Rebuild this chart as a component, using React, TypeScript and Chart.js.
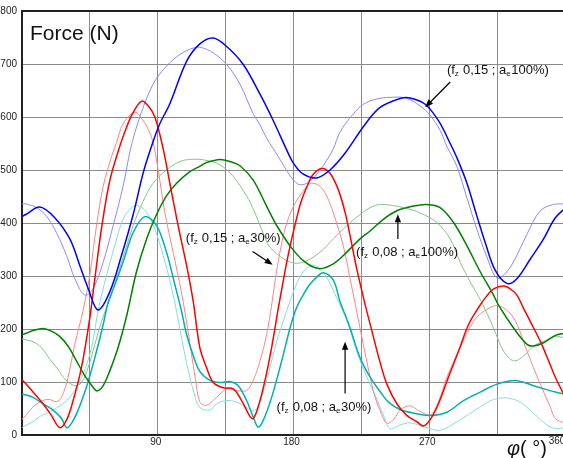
import React, { useEffect, useRef } from "react";
import { Chart, registerables } from "chart.js";

Chart.register(...registerables);

type Pt = [number, number];

// angle φ (°) , force (N)
const blueDark: Pt[] = [[0,412],[2.5,416],[11.8,430],[21.7,410],[31.7,370],[38.3,320],[43.8,277],[50.4,236],[58.2,270],[66,339],[73.7,416],[80.3,494],[85.3,540],[91,585],[98,625],[109.1,705],[117.9,738],[126.8,749],[135.7,733],[146.7,699],[157.8,643],[166.6,593],[176.6,531],[179.9,513],[186,493],[195.4,485],[204.2,500],[214,531],[226.9,584],[237.4,618],[250.7,635],[257.3,636],[267.3,624],[276.1,593],[283.9,550],[288.8,520],[295,475],[301.6,413],[307.1,363],[313.7,311],[321.5,286],[328.1,295],[337,332],[345.8,370],[353.1,408],[360,428]];
const blueLight: Pt[] = [[0,436],[2.5,436],[9.6,429],[16.2,413],[22.8,382],[29.5,339],[35,295],[41.6,264],[47.1,276],[53.8,326],[60.4,395],[67,469],[72,540],[78.1,600],[86.9,662],[95.8,696],[104.7,718],[113.5,730],[119,731],[126.8,721],[135.7,699],[144.5,662],[153.3,606],[157.8,585],[162.2,560],[166.6,540],[173.2,510],[178.8,485],[184.3,472],[191,479],[197.6,500],[202,518],[206.4,540],[210.9,572],[219.7,606],[226.3,624],[235.2,634],[244,637],[254,636],[264,621],[270.6,603],[277.2,575],[281.6,545],[288.3,507],[295,447],[301.6,388],[308.2,336],[314.9,296],[321.5,308],[328.1,339],[334.8,379],[343.6,423],[352.4,435],[360,436]];
const redDark: Pt[] = [[0,104],[1.8,99],[7.3,81],[13.9,59],[19.5,37],[25,14],[29.5,28],[33.9,65],[39.4,127],[44.9,220],[48.3,295],[52.7,390],[58.2,480],[64.3,540],[68.2,572],[73,605],[79.3,630],[84,620],[88.1,600],[93.6,540],[98,475],[103.5,395],[109.1,320],[113.5,252],[117.9,165],[122.4,127],[126.8,99],[133.4,89],[140,87],[145.6,65],[151.1,35],[153.3,31],[156.6,53],[161.1,103],[165.5,165],[169.9,239],[172.2,275],[175.5,326],[178.8,370],[182,408],[185,440],[188.8,468],[193.1,492],[198.7,503],[204.2,494],[209.7,463],[214.2,420],[217.5,376],[221.9,314],[227.5,246],[232,196],[237.4,137],[241.9,96],[248.5,59],[255.1,37],[261.8,25],[266.1,17],[270.6,29],[276.1,59],[282.7,109],[289.4,158],[296,208],[303,242],[308,262],[313,276],[319.3,281],[324,275],[328.1,264],[332.5,239],[337,214],[343.6,177],[349.1,140],[353.6,109],[360,72]];
const redLight: Pt[] = [[0,30],[1.8,34],[7.3,53],[13.9,65],[18.4,67],[22.8,63],[26.2,71],[30.5,109],[35,171],[40.5,235],[44.9,301],[49.4,395],[53.8,469],[59.3,525],[62.7,552],[67,587],[74.8,609],[80.3,593],[84.8,570],[87.5,545],[90.3,500],[94.7,420],[100.2,345],[105.8,268],[109,215],[112,160],[115,105],[118,62],[122.4,56],[129,71],[135.7,87],[142.3,84],[148.9,84],[153.3,103],[157.8,140],[162.2,190],[165.5,245],[168,295],[171,345],[174,385],[177,412],[181,437],[185.4,456],[189.8,472],[193.1,475],[197.6,469],[202,451],[206.4,419],[213,357],[217.5,295],[221.9,233],[226,175],[230,120],[234,72],[238,42],[241.9,22],[246,28],[251,48],[257.3,55],[263,46],[270.6,38],[276,62],[281.7,109],[290.5,165],[299.3,214],[306,233],[315.9,244],[325.9,221],[334.8,158],[343.6,96],[350.2,53],[353.6,31],[360,22]];
const greenDark: Pt[] = [[0,190],[1.8,191],[7.3,197],[13.9,201],[19.5,196],[25,186],[30.5,168],[36.1,140],[41.6,112],[47.1,90],[49.8,83],[53.8,93],[58.2,121],[63.7,165],[69.3,224],[75.9,308],[82.6,370],[89.2,416],[95.8,451],[102.5,475],[111.3,497],[117.9,507],[122.4,514],[131.2,520],[138,516],[144.5,508],[153.3,481],[161.1,438],[164.4,419],[168.9,395],[177.7,357],[186.5,329],[196.5,314],[206.4,323],[215.3,345],[224.1,370],[230.8,385],[239.6,407],[248.5,423],[259.5,432],[268.4,435],[277.2,429],[286.1,401],[295,357],[303.8,308],[312.6,264],[315.9,245],[325.9,202],[334.8,171],[339.2,168],[345.8,174],[353.6,188],[360,192]];
const greenLight: Pt[] = [[0,181],[1.8,180],[7.3,176],[12.9,165],[18.4,143],[23.9,124],[28.3,106],[35,93],[39.4,99],[43.8,127],[48.3,171],[52.7,214],[56,240],[59.3,265],[66,326],[73.7,395],[80.3,441],[86.9,475],[95.8,500],[104.7,516],[111.3,520],[117.9,520],[124,517],[131.2,510],[140,488],[148.9,451],[154,422],[160,380],[164,356],[168.9,342],[175.5,329],[182.1,324],[188.8,329],[197.6,345],[206.4,370],[215.3,395],[224.1,416],[233,432],[239.6,435],[252.9,429],[264,419],[275,401],[283.9,370],[290.5,326],[297.1,289],[304.5,252],[312.6,202],[319.3,158],[325.9,140],[332.5,149],[339.2,168],[346.9,178],[353.6,186],[360,183]];
const tealDark: Pt[] = [[0,77],[1.8,76],[7.3,71],[13.9,59],[20.6,47],[26.2,31],[29.5,14],[32.8,22],[37.2,47],[42.7,90],[48.3,146],[53.8,208],[57.1,250],[60.4,275],[67,326],[73.7,382],[81.4,412],[89.2,395],[95.8,345],[101.4,283],[105.8,233],[109.1,190],[113.5,150],[117.9,120],[124.6,103],[131.2,99],[137.9,101],[143.4,93],[148.9,65],[153.3,34],[156.6,15],[160,28],[165.5,71],[172.2,140],[177.7,202],[182,240],[186,262],[190.5,283],[195.4,298],[199.8,306],[206.4,292],[210.8,252],[214.5,225],[217.5,202],[224.1,146],[230.8,109],[237.4,82],[243,62],[250.7,48],[260,41],[270.6,37],[281.7,43],[292.7,65],[303.8,81],[314.9,96],[327,103],[339.2,93],[353.6,81],[360,77]];
const tealLight: Pt[] = [[0,14],[1.8,17],[7.3,25],[12.9,37],[18.4,43],[23.9,53],[29.5,65],[35,84],[40.5,115],[46.1,165],[50.5,235],[56,301],[61.5,357],[67,407],[72.6,429],[77,433],[82.6,420],[88.1,388],[93.6,339],[99.2,277],[102.5,233],[106,180],[110,125],[114,80],[117.9,52],[124.6,47],[129,59],[135.7,65],[142.3,62],[148.9,52],[153,45],[156,52],[158.9,71],[163.3,115],[168.9,177],[174.4,225],[179.9,270],[185.4,304],[189.8,317],[193.1,320],[197.6,314],[203.1,292],[208.7,258],[215.3,217],[221.9,158],[228.6,109],[235.2,68],[239.5,38],[244,12],[250.7,19],[257.3,23],[267.3,15],[277.2,9],[288.3,25],[303.8,53],[312.6,67],[321.5,70],[330.3,62],[339.2,41],[348,19],[353.6,12],[360,14]];

const xMin = 0;
const xMax = 360;
const xStep = 45;
const xLabelTicks = [90, 180, 270];
const xLastLabel = 360;
const yMin = 0;
const yMax = 800;
const yStep = 100;

const FONT = '"Liberation Sans", Arial, Helvetica, sans-serif';

const seriesStyle = [
  { name: "fz 0,15 ; ae100%", data: blueDark, color: "#0000ff", width: 1.5 },
  { name: "fz 0,15 ; ae30%", data: redDark, color: "#ff0000", width: 1.5 },
  { name: "fz 0,08 ; ae100%", data: greenDark, color: "#008000", width: 1.5 },
  { name: "fz 0,08 ; ae30%", data: tealDark, color: "#00b0b0", width: 1.5 },
  { name: "fz 0,15 ; ae100% (b)", data: blueLight, color: "#8888ff", width: 1 },
  { name: "fz 0,15 ; ae30% (b)", data: redLight, color: "#ff8484", width: 1 },
  { name: "fz 0,08 ; ae100% (b)", data: greenLight, color: "#84c484", width: 1 },
  { name: "fz 0,08 ; ae30% (b)", data: tealLight, color: "#80dede", width: 1 },
];

type Part = [string, boolean];
const annotations: { parts: Part[]; x: number; y: number; from: Pt; to: Pt }[] = [
  { parts: [["(f", false], ["z", true], [" 0,15 ; a", false], ["e", true], ["100%)", false]], x: 281.7, y: 680.5, from: [283.9, 666], to: [267.3, 618.4] },
  { parts: [["(f", false], ["z", true], [" 0,15 ; a", false], ["e", true], ["30%)", false]], x: 108.6, y: 363.5, from: [152.9, 346.2], to: [166.2, 321.2] },
  { parts: [["(f", false], ["z", true], [" 0,08 ; a", false], ["e", true], ["100%)", false]], x: 221.5, y: 337, from: [249.2, 369.7], to: [249.2, 416.3] },
  { parts: [["(f", false], ["z", true], [" 0,08 ; a", false], ["e", true], ["30%)", false]], x: 168.8, y: 45, from: [214.2, 78.3], to: [214.2, 175.8] },
];

const overlayPlugin = {
  id: "overlay",
  afterDraw(chart: any) {
    const { ctx, chartArea: ca, scales } = chart;
    const xs = scales.x;
    const ys = scales.y;
    ctx.save();
    // top frame
    ctx.strokeStyle = "#222";
    ctx.lineWidth = 2;
    ctx.beginPath();
    ctx.moveTo(ca.left - 1, ca.top);
    ctx.lineTo(ca.right, ca.top);
    ctx.stroke();

    // last x tick label
    ctx.fillStyle = "#222";
    ctx.font = "10px " + FONT;
    ctx.textAlign = "center";
    ctx.textBaseline = "top";
    ctx.fillText(String(xLastLabel), xs.getPixelForValue(xLastLabel) - 8, ca.bottom + 1);

    // y title
    ctx.fillStyle = "#111";
    ctx.textAlign = "left";
    ctx.textBaseline = "alphabetic";
    ctx.font = "21px " + FONT;
    ctx.fillText("Force (N)", ca.left + 8, ca.top + 29);

    // x title
    ctx.font = "italic 20px " + FONT;
    ctx.fillText("φ", ca.right - 58, ca.bottom + 20);
    ctx.font = "20px " + FONT;
    ctx.fillText("( °)", ca.right - 45, ca.bottom + 20);

    // annotations
    for (const a of annotations) {
      let cx = xs.getPixelForValue(a.x);
      const by = ys.getPixelForValue(a.y);
      ctx.fillStyle = "#111";
      for (const [t, sub] of a.parts) {
        ctx.font = (sub ? "8px " : "13px ") + FONT;
        ctx.fillText(t, cx, by + (sub ? 1.5 : 0));
        cx += ctx.measureText(t).width + (sub ? 0.5 : 0);
      }
      const x1 = xs.getPixelForValue(a.from[0]);
      const y1 = ys.getPixelForValue(a.from[1]);
      const x2 = xs.getPixelForValue(a.to[0]);
      const y2 = ys.getPixelForValue(a.to[1]);
      const ang = Math.atan2(y2 - y1, x2 - x1);
      const hl = 8;
      const hw = 3.2;
      ctx.strokeStyle = "#000";
      ctx.lineWidth = 1.2;
      ctx.beginPath();
      ctx.moveTo(x1, y1);
      ctx.lineTo(x2 - Math.cos(ang) * hl * 0.8, y2 - Math.sin(ang) * hl * 0.8);
      ctx.stroke();
      ctx.fillStyle = "#000";
      ctx.beginPath();
      ctx.moveTo(x2, y2);
      ctx.lineTo(x2 - Math.cos(ang) * hl - Math.sin(ang) * hw, y2 - Math.sin(ang) * hl + Math.cos(ang) * hw);
      ctx.lineTo(x2 - Math.cos(ang) * hl + Math.sin(ang) * hw, y2 - Math.sin(ang) * hl - Math.cos(ang) * hw);
      ctx.closePath();
      ctx.fill();
    }
    ctx.restore();
  },
};

export default function App() {
  const ref = useRef<HTMLCanvasElement | null>(null);
  useEffect(() => {
    if (!ref.current) return;
    Chart.defaults.font.family = FONT;
    const chart = new Chart(ref.current, {
      type: "line",
      data: {
        datasets: seriesStyle.map((s) => ({
          label: s.name,
          data: s.data.map(([x, y]) => ({ x, y })),
          borderColor: s.color,
          backgroundColor: s.color,
          borderWidth: s.width,
          pointRadius: 0,
          fill: false,
          tension: 0.35,
        })),
      },
      options: {
        responsive: false,
        animation: false,
        events: [],
        layout: { padding: { top: 6, right: 25, left: 0, bottom: 0 } },
        plugins: { legend: { display: false }, tooltip: { enabled: false }, title: { display: false } },
        scales: {
          x: {
            type: "linear",
            min: xMin,
            max: xMax,
            afterFit: (s: any) => { s.height = 23; },
            afterBuildTicks: (s: any) => {
              const t = [];
              for (let v = xMin; v <= xMax; v += xStep) t.push({ value: v });
              s.ticks = t;
            },
            ticks: {
              stepSize: xStep,
              autoSkip: false,
              maxRotation: 0,
              padding: 1,
              labelOffset: -2,
              color: "#222",
              font: { size: 10, family: FONT },
              callback: (v: any) => (xLabelTicks.includes(Number(v)) ? String(v) : ""),
            },
            grid: { color: "#8a8a8a", lineWidth: 1, drawTicks: false },
            border: { display: true, color: "#222", width: 2 },
          },
          y: {
            type: "linear",
            min: yMin,
            max: yMax,
            afterFit: (s: any) => { s.width = 22; },
            ticks: {
              stepSize: yStep,
              padding: 5,
              color: "#222",
              font: { size: 10, family: FONT },
            },
            grid: { color: "#8a8a8a", lineWidth: 1, drawTicks: false },
            border: { display: true, color: "#222", width: 2 },
          },
        },
      },
      plugins: [overlayPlugin],
    });
    return () => chart.destroy();
  }, []);

  return (
    <div style={{ position: "fixed", left: 0, top: 0, width: 563, height: 458, overflow: "hidden", background: "#fff" }}>
      <canvas ref={ref} width={590} height={458} style={{ display: "block", width: 590, height: 458 }} />
    </div>
  );
}
